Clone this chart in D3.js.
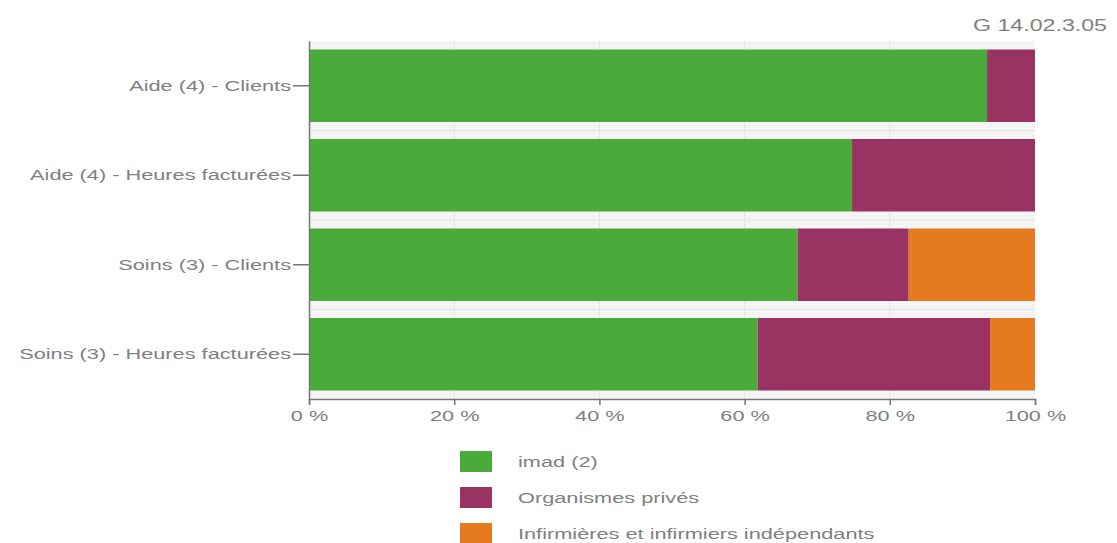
<!DOCTYPE html>
<html>
<head>
<meta charset="utf-8">
<script src="https://cdn.jsdelivr.net/npm/d3@7"></script>
<style>
  body { margin: 0; background: #fff; }
  text { font-family: "Liberation Sans", Arial, sans-serif; }
</style>
</head>
<body>
<div id="chart-container"></div>
<script>
// categories (top to bottom)
const categories = [
  "Aide (4) - Clients",
  "Aide (4) - Heures facturées",
  "Soins (3) - Clients",
  "Soins (3) - Heures facturées",
];
// series values, in percent
const seriesNames = ["imad (2)", "Organismes privés", "Infirmières et infirmiers indépendants"];
const imad = [93.4, 74.8, 67.3, 61.8];
const prives = [6.6, 25.2, 15.3, 32.0];
const independants = [0, 0, 17.4, 6.2];
const xTicks = [0, 20, 40, 60, 80, 100];
const colors = ["#4aaa3a", "#983362", "#e57b1e"];

const width = 1117;
const height = 543;
const margin = { top: 41, right: 82, bottom: 144, left: 309 };
// the original picture is stretched sideways, so text is widened too
const stretchX = 1.45;

function stretch(sel) {
  sel.each(function () {
    const x = +this.getAttribute('x') || 0;
    this.setAttribute('transform', `translate(${x},0) scale(${stretchX},1) translate(${-x},0)`);
  });
}

function drawChart() {
  const data = categories.map((c, i) => ({
    name: c, imad: imad[i], prives: prives[i], independants: independants[i]
  }));
  const keys = ["imad", "prives", "independants"];

  const svg = d3.select('#chart-container')
    .append('svg')
    .attr('width', width)
    .attr('height', height);

  const x = d3.scaleLinear()
    .domain([0, 100])
    .range([margin.left, width - margin.right]);
  const y = d3.scaleBand()
    .domain(categories)
    .range([margin.top, height - margin.bottom])
    .paddingInner(0.19)
    .paddingOuter(0.095);

  // plot background
  svg.append('rect')
    .attr('x', x(0))
    .attr('y', margin.top)
    .attr('width', x(100) - x(0))
    .attr('height', height - margin.bottom - margin.top)
    .attr('fill', '#f4f4f4');

  // vertical grid
  svg.append('g')
    .selectAll('line')
    .data(xTicks.slice(1, -1))
    .enter()
    .append('line')
    .attr('x1', d => x(d)).attr('x2', d => x(d))
    .attr('y1', margin.top).attr('y2', height - margin.bottom)
    .attr('stroke', '#e4e4e4');

  // horizontal lines between bands
  const step = y.step();
  svg.append('g')
    .selectAll('line')
    .data(categories.slice(1))
    .enter()
    .append('line')
    .attr('x1', x(0)).attr('x2', x(100))
    .attr('y1', d => y(d) - (step - y.bandwidth()) / 2)
    .attr('y2', d => y(d) - (step - y.bandwidth()) / 2)
    .attr('stroke', '#e4e4e4');

  const stack = d3.stack().keys(keys)(data);

  svg.append('g')
    .selectAll('g')
    .data(stack)
    .enter()
    .append('g')
    .attr('fill', (_, i) => colors[i])
    .selectAll('rect')
    .data(d => d)
    .enter()
    .append('rect')
    .attr('x', d => x(d[0]))
    .attr('y', d => y(d.data.name))
    .attr('width', d => x(d[1]) - x(d[0]))
    .attr('height', y.bandwidth());

  // x axis
  const xAxis = svg.append('g')
    .attr('transform', `translate(0, ${height - margin.bottom})`)
    .call(d3.axisBottom(x).tickValues(xTicks).tickSize(6).tickPadding(5).tickFormat(d => d + ' %'));
  xAxis.select('.domain').attr('stroke', '#777').attr('stroke-width', 1.5);
  xAxis.selectAll('.tick line').attr('stroke', '#777').attr('stroke-width', 1.5);
  xAxis.selectAll('text').attr('fill', '#808080').style('font-size', '15px').call(stretch);

  // y axis
  const yAxis = svg.append('g')
    .attr('transform', `translate(${margin.left}, 0)`)
    .call(d3.axisLeft(y).tickSize(16).tickPadding(2).tickSizeOuter(0));
  yAxis.select('.domain').attr('stroke', '#777').attr('stroke-width', 1.5);
  yAxis.selectAll('.tick line').attr('stroke', '#777').attr('stroke-width', 1.5);
  yAxis.selectAll('text').attr('fill', '#808080').style('font-size', '15px').call(stretch);

  // source label
  svg.append('text')
    .attr('x', 1107)
    .attr('y', 31)
    .attr('text-anchor', 'end')
    .attr('fill', '#808080')
    .style('font-size', '16px')
    .text('G 14.02.3.05')
    .call(stretch);

  // legend
  const legend = svg.append('g')
    .selectAll('g')
    .data(seriesNames)
    .enter()
    .append('g')
    .attr('transform', (_, i) => `translate(460, ${451 + i * 36})`);
  legend.append('rect')
    .attr('width', 32)
    .attr('height', 21)
    .attr('fill', (_, i) => colors[i]);
  legend.append('text')
    .attr('x', 58)
    .attr('y', 11)
    .attr('dy', '0.35em')
    .attr('fill', '#808080')
    .style('font-size', '15px')
    .text(d => d)
    .call(stretch);
}

drawChart();
</script>
</body>
</html>
